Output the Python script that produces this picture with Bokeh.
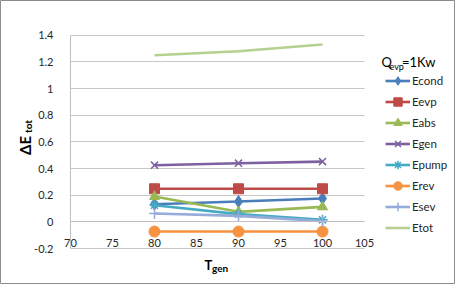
import math
from bokeh.plotting import figure
from bokeh.models import (FixedTicker, Legend, LegendItem, Label)
from bokeh.embed import file_html
from bokeh.resources import INLINE

# ---- data ----
t_gen = [80, 90, 100]
econd = [0.132, 0.152, 0.175]
eevp = [0.248, 0.248, 0.248]
eabs = [0.19, 0.075, 0.112]
egen = [0.425, 0.44, 0.452]
epump = [0.125, 0.058, 0.015]
erev = [-0.073, -0.073, -0.073]
esev = [0.062, 0.045, 0.005]
etot = [1.25, 1.28, 1.33]

x_ticks = [70, 75, 80, 85, 90, 95, 100, 105]
x_tick_labels = ["70", "75", "80", "85", "90", "95", "100", "105"]
y_ticks = [-0.2, 0.0, 0.2, 0.4, 0.6, 0.8, 1.0, 1.2, 1.4]
y_tick_labels = ["-0.2", "0", "0.2", "0.4", "0.6", "0.8", "1", "1.2", "1.4"]

FONT = "Lato"

# page-pixel geometry of the reference plot area
PX0, PX1 = 78.0, 372.0      # x = 70 .. 105
PY0, PY1 = 256.0, 42.7      # y = -0.2 .. 1.4
SX = (PX1 - PX0) / (x_ticks[-1] - x_ticks[0])
SY = (PY0 - PY1) / (y_ticks[-1] - y_ticks[0])

def px_x(px):
    return x_ticks[0] + (px - PX0) / SX

def px_y(py):
    return y_ticks[0] + (PY0 - py) / SY

W, H = 455, 284  # canvas at page (8,8) .. (463,292)

p = figure(width=W, height=H, output_backend="svg", toolbar_location=None,
           x_range=(px_x(8), px_x(8 + W)), y_range=(px_y(8 + H), px_y(8)),
           min_border=0, min_border_left=0, min_border_right=0,
           min_border_top=0, min_border_bottom=0)
p.outline_line_color = "#8C8C8C"
p.outline_line_width = 1
p.background_fill_color = "white"
p.border_fill_color = "white"

# axes
p.xaxis.ticker = FixedTicker(ticks=x_ticks)
p.xaxis.major_label_overrides = dict(zip(x_ticks, x_tick_labels))
p.xaxis.fixed_location = 0
p.xaxis.bounds = (x_ticks[0], x_ticks[-1])
p.xaxis.axis_line_color = "#BFBFBF"
p.xaxis.major_tick_line_color = None
p.xaxis.minor_tick_line_color = None
p.xaxis.major_label_standoff = 11
p.xaxis.major_label_text_font = FONT
p.xaxis.major_label_text_font_size = "11px"
p.xaxis.major_label_text_color = "#262626"

p.yaxis.ticker = FixedTicker(ticks=y_ticks)
p.yaxis.major_label_overrides = dict(zip(y_ticks, y_tick_labels))
p.yaxis.fixed_location = x_ticks[0]
p.yaxis.bounds = (y_ticks[0], y_ticks[-1])
p.yaxis.axis_line_color = "#BFBFBF"
p.yaxis.major_tick_line_color = None
p.yaxis.minor_tick_line_color = None
p.yaxis.major_label_standoff = 11
p.yaxis.major_label_text_font = FONT
p.yaxis.major_label_text_font_size = "11px"
p.yaxis.major_label_text_color = "#262626"

p.xgrid.grid_line_color = None
GRID = "#C8C8C8"
if "cross_bounds" in p.ygrid[0].properties():
    p.ygrid.cross_bounds = (x_ticks[0], x_ticks[-1])
    p.ygrid.grid_line_color = GRID
    p.ygrid.grid_line_width = 1
else:
    p.ygrid.grid_line_color = None
    p.segment(x0=x_ticks[0], x1=x_ticks[-1], y0=y_ticks, y1=y_ticks,
              line_color=GRID, line_width=1)

LW = 2.6
series = [
    ("Econd", econd, "#4A7EBB", "diamond", 12),
    ("Eevp", eevp, "#BE4B48", "square", 10),
    ("Eabs", eabs, "#98B954", "triangle", 10),
    ("Egen", egen, "#7D60A0", "x", 10),
    ("Epump", epump, "#46AAC5", "asterisk", 10),
    ("Erev", erev, "#F69240", "circle", 11),
    ("Esev", esev, "#95ABDA", "cross", 11),
    ("Etot", etot, "#B5D08F", None, 0),
]

items = []
for name, vals, color, marker, size in series:
    r = [p.line(t_gen, vals, line_color=color, line_width=LW)]
    if marker is not None:
        if marker in ("x", "asterisk", "cross"):
            r.append(p.scatter(t_gen, vals, marker=marker, size=size,
                               line_color=color, line_width=1.5, fill_color=None))
        else:
            r.append(p.scatter(t_gen, vals, marker=marker, size=size,
                               line_color=color, fill_color=color))
    items.append(LegendItem(label=name, renderers=r))

# legend: glyph starts at page x 393, bottom row ends at page y 245.5
legend = Legend(items=items, location=(393 - 8, (8 + H) - 245.5),
                orientation="vertical",
                padding=0, margin=0, spacing=0, label_height=21, glyph_height=21,
                glyph_width=25, label_standoff=2, border_line_color=None,
                background_fill_alpha=0,
                label_text_font=FONT, label_text_font_size="11.5px",
                label_text_color="#262626")
p.add_layout(legend, "center")

def lab(text, px, py, size, bold=False, angle=0.0, align="left"):
    p.add_layout(Label(x=px_x(px), y=px_y(py), text=text, angle=angle,
                       text_font=FONT, text_font_size=size,
                       text_font_style="bold" if bold else "normal",
                       text_color="#000000", text_align=align,
                       text_baseline="alphabetic"))

# legend title Q_evp=1Kw
lab("Q", 389, 69.5, "13px")
lab("evp", 397, 73.5, "9px")
lab("=1Kw", 409.5, 69.5, "13px")

# x-axis title T_gen
lab("T", 212, 272.5, "13px", bold=True)
lab("gen", 219.5, 275, "10px", bold=True)

# y-axis title ΔE_tot (rotated, reading upward)
lab("ΔE", 32.7, 153, "15px", bold=True, angle=math.pi / 2, align="center")
lab("tot", 35.5, 134, "10px", bold=True, angle=math.pi / 2, align="center")

open("out.html", "w").write(file_html(p, INLINE))
